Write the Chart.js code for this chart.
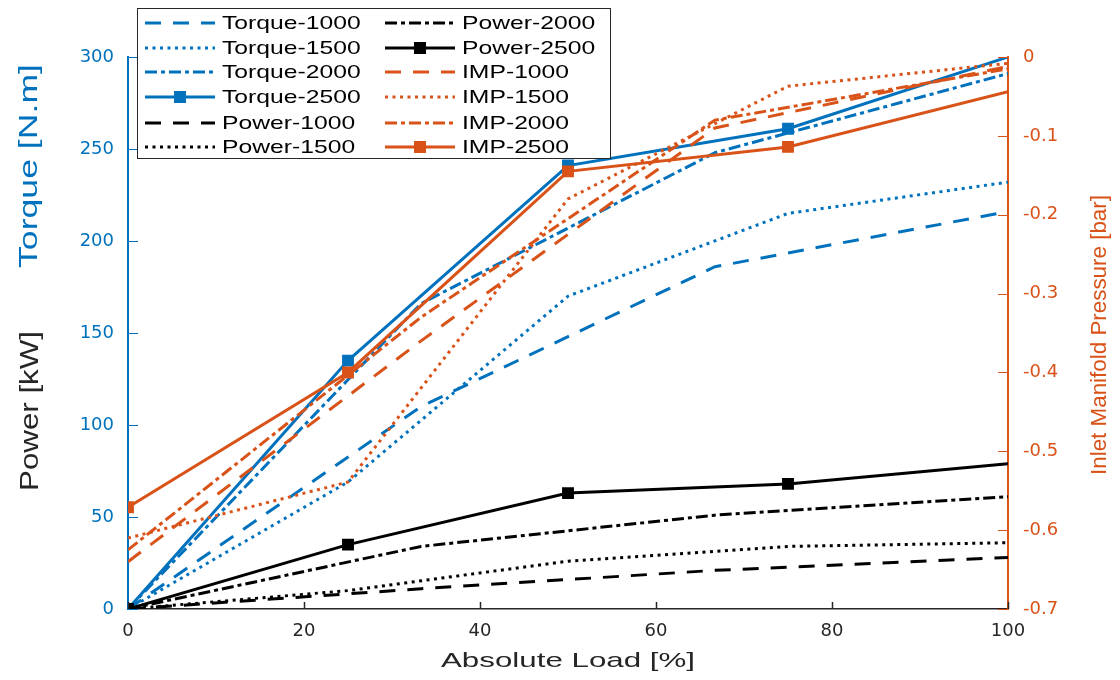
<!DOCTYPE html>
<html>
<head>
<meta charset="utf-8">
<script src="https://cdn.jsdelivr.net/npm/chart.js@4.4.1/dist/chart.umd.min.js"></script>
<style>
  html, body { margin: 0; padding: 0; background: #fff; }
  #wrap { width: 1120px; height: 680px; }
</style>
</head>
<body>
<div id="wrap"><canvas id="chart" width="1120" height="680"></canvas></div>
<script>
// load points (%) - the 1000/2000 rpm runs were logged at thirds, 1500/2500 at quarters
const loadThirds = [0, 33.3, 66.7, 100];
const loadQuarters = [0, 25, 50, 75, 100];

// torque [N.m]
const torque1000 = [0, 110, 186, 216];
const torque1500 = [0, 69, 170, 215, 232];
const torque2000 = [0, 166, 248, 291];
const torque2500 = [0, 135, 241, 261, 300];

// power [kW]
const power1000 = [0, 11, 21, 28];
const power1500 = [0, 10, 26, 34, 36];
const power2000 = [0, 34, 51, 61];
const power2500 = [0, 35, 63, 68, 79];

// inlet manifold pressure [bar]
const imp1000 = [-0.64, -0.36, -0.09, -0.012];
const imp1500 = [-0.61, -0.539, -0.18, -0.037, -0.008];
const imp2000 = [-0.625, -0.33, -0.08, -0.015];
const imp2500 = [-0.571, -0.40, -0.145, -0.114, -0.044];

const xTicks = [0, 20, 40, 60, 80, 100];
const leftTicks = [0, 50, 100, 150, 200, 250, 300];
const rightTicks = [-0.7, -0.6, -0.5, -0.4, -0.3, -0.2, -0.1, 0];

const BLUE = "#0072BD";
const ORANGE = "#D95319";
const BLACK = "#000000";
const AXIS = "#262626";
const FONT = "'Liberation Sans', Arial, sans-serif";

const DASHED = [16, 12];
const DOTTED = [3, 4.5];
const DASHDOT = [12, 4, 4, 4];

function pts(xs, ys) {
  return xs.map((x, i) => ({ x, y: ys[i] }));
}

function series(label, xs, ys, color, dash, axis, marker, order) {
  return {
    label,
    data: pts(xs, ys),
    yAxisID: axis,
    borderColor: color,
    backgroundColor: color,
    borderWidth: 3,
    borderDash: dash,
    tension: 0,
    order,
    pointStyle: "rect",
    pointRadius: marker ? xs.map((x, i) => (i < xs.length - 1 ? 7 : 0)) : 0,
    pointBorderWidth: 2,
    pointBorderColor: color,
    pointBackgroundColor: color,
    _marker: marker
  };
}

const datasets = [
  series("Torque-1000", loadThirds, torque1000, BLUE, DASHED, "y", false, 2),
  series("Torque-1500", loadQuarters, torque1500, BLUE, DOTTED, "y", false, 2),
  series("Torque-2000", loadThirds, torque2000, BLUE, DASHDOT, "y", false, 2),
  series("Torque-2500", loadQuarters, torque2500, BLUE, [], "y", true, 2),
  series("Power-1000", loadThirds, power1000, BLACK, DASHED, "y", false, 1),
  series("Power-1500", loadQuarters, power1500, BLACK, DOTTED, "y", false, 1),
  series("Power-2000", loadThirds, power2000, BLACK, DASHDOT, "y", false, 1),
  series("Power-2500", loadQuarters, power2500, BLACK, [], "y", true, 1),
  series("IMP-1000", loadThirds, imp1000, ORANGE, DASHED, "y1", false, 0),
  series("IMP-1500", loadQuarters, imp1500, ORANGE, DOTTED, "y1", false, 0),
  series("IMP-2000", loadThirds, imp2000, ORANGE, DASHDOT, "y1", false, 0),
  series("IMP-2500", loadQuarters, imp2500, ORANGE, [], "y1", true, 0)
];

// text drawn with a stretch along its own direction so it fills a given length
function stretchedText(ctx, text, x, y, size, color, length, rot) {
  ctx.save();
  ctx.font = size + "px " + FONT;
  ctx.fillStyle = color;
  ctx.textAlign = "center";
  ctx.textBaseline = "middle";
  const w = ctx.measureText(text).width;
  ctx.translate(x, y);
  ctx.rotate(rot);
  ctx.scale(length / w, 1);
  ctx.fillText(text, 0, 0);
  ctx.restore();
}

function seg(ctx, x1, y1, x2, y2, color, width) {
  ctx.beginPath();
  ctx.strokeStyle = color;
  ctx.lineWidth = width;
  ctx.moveTo(x1, y1);
  ctx.lineTo(x2, y2);
  ctx.stroke();
}

const decor = {
  id: "decor",
  afterDraw(chart) {
    const ctx = chart.ctx;
    const { left, right, top, bottom } = chart.chartArea;
    const xs = chart.scales.x, ys = chart.scales.y, ys1 = chart.scales.y1;

    ctx.save();
    ctx.setLineDash([]);
    // inward tick marks
    ys.ticks.forEach(t => {
      const p = Math.round(ys.getPixelForValue(t.value)) + 0.5;
      seg(ctx, left, p, left + 10, p, BLUE, 1);
    });
    ys1.ticks.forEach(t => {
      const p = Math.round(ys1.getPixelForValue(t.value)) + 0.5;
      seg(ctx, right, p, right - 10, p, ORANGE, 1);
    });
    xs.ticks.forEach(t => {
      const p = Math.round(xs.getPixelForValue(t.value)) + 0.5;
      seg(ctx, p, bottom, p, bottom - 7, AXIS, 1.5);
    });

    // axis titles
    stretchedText(ctx, "Absolute Load [%]", (left + right) / 2, 661, 21, AXIS, 254, 0);
    stretchedText(ctx, "Torque [N.m]", 30, 166, 26, BLUE, 204, -Math.PI / 2);
    stretchedText(ctx, "Power [kW]", 31, 411, 26, "#262626", 160, -Math.PI / 2);
    stretchedText(ctx, "Inlet Manifold Pressure [bar]", 1100, 335, 22, ORANGE, 280, -Math.PI / 2);

    // legend, two columns of six
    const box = { x: 137.5, y: 8.5, w: 473, h: 150 };
    ctx.fillStyle = "#ffffff";
    ctx.fillRect(box.x, box.y, box.w, box.h);
    ctx.strokeStyle = AXIS;
    ctx.lineWidth = 1;
    ctx.strokeRect(box.x, box.y, box.w, box.h);
    const rowY = [23, 48, 72, 97, 123, 147];
    const colX = [145, 385];
    chart.data.datasets.forEach((ds, i) => {
      const col = Math.floor(i / 6), row = i % 6;
      const x0 = colX[col], y0 = rowY[row];
      ctx.save();
      ctx.setLineDash(ds.borderDash);
      seg(ctx, x0, y0, x0 + 70, y0, ds.borderColor, 3);
      ctx.restore();
      if (ds._marker) {
        ctx.fillStyle = ds.borderColor;
        ctx.fillRect(x0 + 29, y0 - 6, 12, 12);
      }
      ctx.save();
      ctx.font = "19px " + FONT;
      ctx.fillStyle = "#000";
      ctx.textBaseline = "middle";
      ctx.translate(x0 + 77, y0 + 1);
      ctx.scale(1.3, 1);
      ctx.fillText(ds.label, 0, 0);
      ctx.restore();
    });
    ctx.restore();
  }
};

new Chart(document.getElementById("chart"), {
  type: "line",
  data: { datasets },
  options: {
    responsive: false,
    animation: false,
    devicePixelRatio: 1,
    layout: { padding: { top: 57, left: 0, right: 0, bottom: 0 } },
    plugins: {
      legend: { display: false },
      tooltip: { enabled: false }
    },
    scales: {
      x: {
        type: "linear",
        min: 0,
        max: 100,
        afterBuildTicks: s => { s.ticks = xTicks.map(v => ({ value: v })); },
        afterFit: s => { s.height = 71; },
        grid: { display: false, drawTicks: false },
        border: { display: true, color: AXIS, width: 1.5 },
        ticks: { color: AXIS, padding: 12, font: { family: "DejaVu Sans", size: 18 } }
      },
      y: {
        type: "linear",
        position: "left",
        min: 0,
        max: 300,
        afterBuildTicks: s => { s.ticks = leftTicks.map(v => ({ value: v })); },
        afterFit: s => { s.width = 128; },
        grid: { display: false, drawTicks: false },
        border: { display: true, color: BLUE, width: 2 },
        ticks: { color: BLUE, padding: 14, font: { family: "DejaVu Sans", size: 18 } }
      },
      y1: {
        type: "linear",
        position: "right",
        min: -0.7,
        max: 0,
        afterBuildTicks: s => { s.ticks = rightTicks.map(v => ({ value: v })); },
        afterFit: s => { s.width = 112; },
        grid: { display: false, drawTicks: false },
        border: { display: true, color: ORANGE, width: 2 },
        ticks: {
          color: ORANGE,
          padding: 15,
          font: { family: "DejaVu Sans", size: 18 },
          callback: v => (v === 0 ? "0" : v.toFixed(1))
        }
      }
    }
  },
  plugins: [decor]
});
</script>
</body>
</html>
